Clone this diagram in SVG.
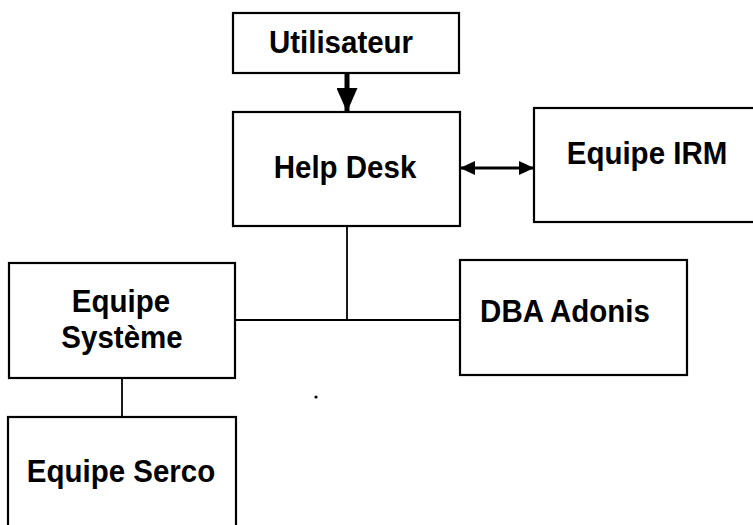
<svg xmlns="http://www.w3.org/2000/svg" width="753" height="525" viewBox="0 0 753 525">
  <style>
    .box { fill: #ffffff; stroke: #000000; stroke-width: 2.2; }
    .lbl { font-family: "Liberation Sans", Arial, sans-serif; font-weight: bold; font-size: 29.5px; fill: #000000; text-anchor: middle; }
    .wire { fill: none; stroke: #000000; stroke-width: 1.8; }
    .shaft { fill: none; stroke: #000000; }
  </style>
  <defs>
    <marker id="head" markerUnits="userSpaceOnUse" markerWidth="15" markerHeight="14" refX="14" refY="7" orient="auto-start-reverse">
      <path d="M0,0 L15,7 L0,14 Z" fill="#000000"/>
    </marker>
    <marker id="headBig" markerUnits="userSpaceOnUse" markerWidth="24" markerHeight="21" refX="23" refY="10.5" orient="auto">
      <path d="M0,0 L24,10.5 L0,21 Z" fill="#000000"/>
    </marker>
  </defs>
  <rect width="753" height="525" fill="#ffffff"/>

  <g id="connectors">
    <line class="shaft" x1="347" y1="73" x2="347" y2="111" stroke-width="5" marker-end="url(#headBig)"/>
    <line class="shaft" x1="461" y1="168" x2="533" y2="168" stroke-width="3" marker-start="url(#head)" marker-end="url(#head)"/>
    <polyline class="wire" points="347,226 347,320"/>
    <polyline class="wire" points="235,320 460,320"/>
    <polyline class="wire" points="122,378 122,417"/>
  </g>

  <g id="utilisateur">
    <rect class="box" x="233" y="13" width="226" height="60"/>
    <text class="lbl" transform="translate(341 53) scale(1 1.08)">Utilisateur</text>
  </g>

  <g id="help-desk">
    <rect class="box" x="233" y="112" width="227" height="114"/>
    <text class="lbl" transform="translate(345 178) scale(1 1.08)">Help Desk</text>
  </g>

  <g id="equipe-irm">
    <rect class="box" x="534" y="108" width="230" height="114"/>
    <text class="lbl" transform="translate(647 164) scale(1 1.08)">Equipe IRM</text>
  </g>

  <g id="dba-adonis">
    <rect class="box" x="460" y="260" width="227" height="115"/>
    <text class="lbl" transform="translate(565 322) scale(1 1.08)">DBA Adonis</text>
  </g>

  <g id="equipe-systeme">
    <rect class="box" x="9" y="263" width="226" height="115"/>
    <text class="lbl" transform="translate(121 312) scale(1 1.08)">Equipe</text>
    <text class="lbl" transform="translate(122 348) scale(1 1.08)">Système</text>
  </g>

  <g id="equipe-serco">
    <rect class="box" x="8" y="417" width="228" height="120"/>
    <text class="lbl" transform="translate(121 482) scale(1 1.08)">Equipe Serco</text>
  </g>

  <circle cx="316" cy="397" r="1.6" fill="#000000"/>
</svg>
